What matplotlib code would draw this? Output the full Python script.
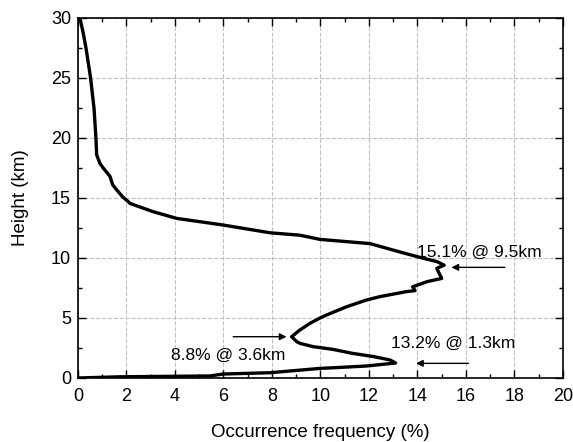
import matplotlib
matplotlib.use("Agg")
import matplotlib.pyplot as plt
from matplotlib.ticker import MultipleLocator

plt.rcParams['font.family'] = ['Liberation Sans', 'DejaVu Sans']

frequency = [0.0, 1.7, 5.44, 5.98, 7.92, 9.98, 10.5, 11.9, 13.1, 12.87, 12.2, 11.3, 10.5,
             9.7, 9.15, 9.02, 8.81, 9.15, 9.57, 9.98, 10.25, 11.08, 11.9, 12.45, 13.55,
             13.9, 13.8, 14.4, 15.0, 14.86, 14.8, 15.1, 14.8, 14.1, 13.28, 12.04, 9.98,
             9.15, 7.92, 5.98, 4.07, 3.1, 2.14, 2.07, 1.84, 1.6, 1.43, 1.32, 1.04, 0.9,
             0.77, 0.74, 0.66, 0.52, 0.33, 0.22, 0.08]
height = [0.0, 0.1, 0.17, 0.33, 0.44, 0.8, 0.85, 1.0, 1.25, 1.5, 1.78, 2.06, 2.39,
          2.61, 2.89, 3.03, 3.44, 4.0, 4.56, 5.0, 5.25, 5.94, 6.5, 6.78, 7.2,
          7.28, 7.6, 8.03, 8.3, 8.86, 9.14, 9.4, 9.7, 10.05, 10.5, 11.2, 11.55,
          11.9, 12.1, 12.75, 13.3, 13.86, 14.55, 14.7, 15.1, 15.67, 16.1, 16.8, 17.5, 17.9,
          18.6, 20.0, 22.5, 25.0, 27.5, 28.7, 30.0]

annot_texts = ["15.1% @ 9.5km", "13.2% @ 1.3km", "8.8% @ 3.6km"]
annot_tips = [(15.4, 9.22), (13.94, 1.22), (8.6, 3.44)]
annot_tails = [(17.6, 9.22), (16.1, 1.22), (6.4, 3.44)]
annot_textpos = [(14.0, 10.5), (12.9, 2.9), (3.85, 1.9)]

fig = plt.figure(figsize=(5.73, 4.42), dpi=100)
ax = fig.add_axes([0.1361, 0.1448, 0.8464, 0.8145])

ax.plot(frequency, height, color='black', lw=2.4, solid_joinstyle='round')

for txt, tip, tail, tp in zip(annot_texts, annot_tips, annot_tails, annot_textpos):
    ax.annotate('', xy=tip, xytext=tail,
                arrowprops=dict(arrowstyle='-|>', color='black', lw=1.0,
                                mutation_scale=10, shrinkA=0, shrinkB=0))
    ax.text(tp[0], tp[1], txt, fontsize=12.5, ha='left', va='center')

ax.set_xlim(0, 20)
ax.set_ylim(0, 30)
ax.xaxis.set_major_locator(MultipleLocator(2))
ax.xaxis.set_minor_locator(MultipleLocator(1))
ax.yaxis.set_major_locator(MultipleLocator(5))
ax.yaxis.set_minor_locator(MultipleLocator(2.5))
ax.tick_params(which='both', direction='in', top=True, right=True, labelsize=13)
ax.tick_params(which='major', length=6, width=1)
ax.tick_params(which='minor', length=3, width=1)
ax.tick_params(axis='x', which='major', pad=7)
ax.tick_params(axis='y', which='major', pad=5)
ax.grid(True, which='major', linestyle='--', color='#c0c0c0', lw=0.8)
for s in ax.spines.values():
    s.set_linewidth(1.2)
ax.set_xlabel('Occurrence frequency (%)', fontsize=13.5, labelpad=14)
ax.set_ylabel('Height (km)', fontsize=13.5, labelpad=16)

fig.savefig('out.png', dpi=100)
